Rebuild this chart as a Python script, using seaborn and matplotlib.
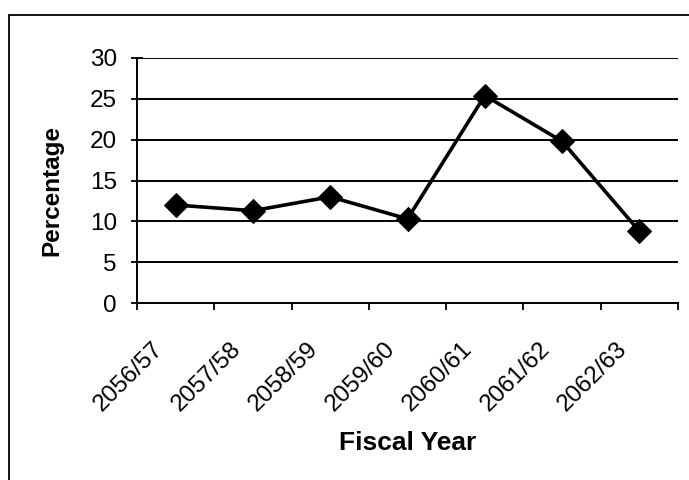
import matplotlib
matplotlib.use("Agg")
import matplotlib.pyplot as plt
from matplotlib.patches import Rectangle
from matplotlib.transforms import ScaledTranslation
from matplotlib.ticker import FixedLocator
import numpy as np
import pandas as pd
import seaborn as sns

# Fiscal years and the percentage for each
years = ["2056/57", "2057/58", "2058/59", "2059/60", "2060/61", "2061/62", "2062/63"]
percentage = [12.0, 11.3, 13.0, 10.3, 25.4, 19.8, 8.8]
y_ticks = [0, 5, 10, 15, 20, 25, 30]

df = pd.DataFrame({"Fiscal Year": years, "Percentage": percentage})

sns.set_theme(style="white")
plt.rcParams["font.family"] = ["Liberation Sans", "DejaVu Sans"]

W, H, DPI = 689, 480, 100
fig = plt.figure(figsize=(W / DPI, H / DPI), dpi=DPI)
fig.patch.set_facecolor("white")

# plot area in pixel terms
left, right, top, bottom = 137, 678, 58, 303
ax = fig.add_axes([left / W, 1 - bottom / H, (right - left) / W, (bottom - top) / H])
ax.set_facecolor("white")

sns.lineplot(data=df, x="Fiscal Year", y="Percentage", ax=ax, color="black",
             linewidth=2.6, marker="D", markersize=12, markeredgecolor="black",
             markerfacecolor="black", sort=False, zorder=5)

ax.set_xlim(-0.5, len(years) - 0.5)
ax.set_ylim(0, 30)

# horizontal gridlines
ax.yaxis.set_major_locator(FixedLocator(y_ticks))
ax.grid(axis="y", color="black", linewidth=1.4)
ax.grid(axis="x", visible=False)
ax.set_axisbelow(True)

for s in ("top", "right"):
    ax.spines[s].set_visible(False)
for s in ("left", "bottom"):
    ax.spines[s].set_color("black")
    ax.spines[s].set_linewidth(1.4)

# y ticks cross the axis
ax.tick_params(axis="y", which="major", direction="inout", length=8, width=1.3,
               color="black", left=True, pad=10.4, labelsize=17.5, labelcolor="black")

# x: tick marks between categories, labels at category centres
ax.set_xticks(range(len(years)))
ax.set_xticks(np.arange(-0.5, len(years), 1.0), minor=True)
ax.tick_params(axis="x", which="major", length=0, pad=25, labelsize=17.5,
               labelcolor="black", bottom=True)
ax.tick_params(axis="x", which="minor", direction="out", length=5, width=1.3,
               color="black", bottom=True)
ax.set_xticklabels(years, rotation=45, ha="right")
shift = ScaledTranslation(-8 / DPI, 0, fig.dpi_scale_trans)
for lab in ax.get_xticklabels():
    lab.set_transform(lab.get_transform() + shift)

ax.set_xlabel("Fiscal Year", fontsize=19, fontweight="bold", color="black", va="center")
ax.set_ylabel("Percentage", fontsize=17.5, fontweight="bold", color="black", va="center")
ax.xaxis.set_label_coords(0.5, -(443 - bottom) / (bottom - top))
ax.yaxis.set_label_coords((52 - left) / (right - left), 1 - (190 - top) / (bottom - top))

# chart frame (runs off the right and bottom edges)
fig.add_artist(Rectangle((9 / W, -0.5), 2.0, (H - 15) / H + 0.5,
                         transform=fig.transFigure, fill=False,
                         edgecolor="black", linewidth=1.3))

fig.savefig("out.png", dpi=DPI, facecolor="white")
